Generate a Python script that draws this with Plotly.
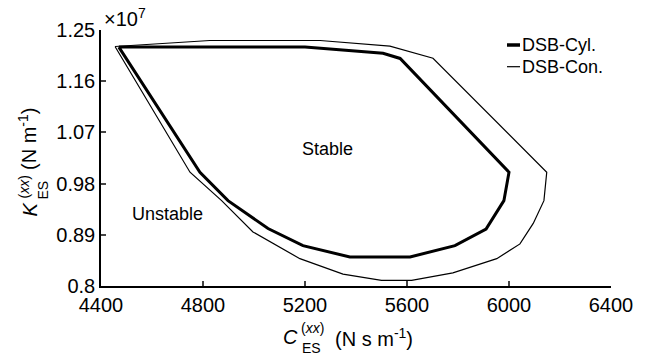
import plotly.graph_objects as go

# ---- data (K in units of 1e7 N/m) ----
cyl_c = [4470, 5200, 5506, 5573, 6000, 5980, 5910, 5788, 5612, 5376, 5192, 5055, 4898, 4788, 4470]
cyl_k = [1.220, 1.220, 1.209, 1.200, 1.000, 0.950, 0.900, 0.871, 0.851, 0.851, 0.871, 0.901, 0.950, 1.000, 1.220]

con_c = [4455, 4827, 5259, 5533, 5702, 6148, 6137, 6095, 6043, 5952, 5780, 5618, 5500, 5349, 5180, 4996, 4873, 4749, 4455]
con_k = [1.221, 1.2315, 1.2315, 1.2215, 1.2004, 1.000, 0.950, 0.910, 0.874, 0.848, 0.823, 0.810, 0.810, 0.821, 0.848, 0.895, 0.950, 1.000, 1.221]

x_ticks = [4400, 4800, 5200, 5600, 6000, 6400]
y_ticks = [0.8, 0.89, 0.98, 1.07, 1.16, 1.25]
y_tick_text = ["0.8", "0.89", "0.98", "1.07", "1.16", "1.25"]

series_names = ["DSB-Cyl.", "DSB-Con."]
region_labels = [("Stable", 5290, 1.0417), ("Unstable", 4659, 0.9257)]

W, H = 649, 356
L, R, T, B = 101, 38, 30, 70
FONT = "Liberation Sans, Arial, sans-serif"


def px(xp, yp):
    """pixel -> paper coordinates"""
    return (xp - L) / (W - L - R), (H - B - yp) / (H - T - B)


fig = go.Figure()
fig.add_trace(go.Scatter(x=cyl_c, y=cyl_k, mode="lines", name=series_names[0],
                         line=dict(color="black", width=3), showlegend=False))
fig.add_trace(go.Scatter(x=con_c, y=con_k, mode="lines", name=series_names[1],
                         line=dict(color="black", width=1.2), showlegend=False))

ann = []
for txt, cx, ky in region_labels:
    ann.append(dict(x=cx, y=ky, xref="x", yref="y", text=txt, showarrow=False,
                    font=dict(size=18, color="black", family=FONT)))


def pann(xp, yp, text, size, xanchor="center", yanchor="middle", angle=0):
    x, y = px(xp, yp)
    ann.append(dict(x=x, y=y, xref="paper", yref="paper", text=text, showarrow=False,
                    xanchor=xanchor, yanchor=yanchor, textangle=angle,
                    font=dict(size=size, color="black", family=FONT)))


# x axis title
pann(290, 337, "<i>C</i>", 20)
pann(312, 328, "(<i>xx</i>)", 14)
pann(311.5, 347.5, "ES", 14)
pann(333, 337, "(N s m<sup>-1</sup>)", 20, xanchor="left")

# y axis title (rotated)
pann(29.5, 209, "<i>K</i>", 20, angle=-90)
pann(23.5, 187, "(<i>xx</i>)", 14, angle=-90)
pann(42.5, 190, "ES", 14, angle=-90)
pann(27, 139, "(N m<sup>-1</sup>)", 20, angle=-90)

# exponent
pann(102, 17, "\u00d710<sup>7</sup>", 20, xanchor="left")

# legend
shapes = []
for i, (name, w) in enumerate(zip(series_names, [3.5, 1.2])):
    yp = 45 + i * 21.7
    x0, y0 = px(507, yp)
    x1, _ = px(520, yp)
    shapes.append(dict(type="line", xref="paper", yref="paper", x0=x0, x1=x1, y0=y0, y1=y0,
                       line=dict(color="black", width=w)))
    pann(520, yp, name, 18, xanchor="left")

fig.update_layout(
    width=W, height=H,
    margin=dict(l=L, r=R, t=T, b=B),
    paper_bgcolor="white", plot_bgcolor="white",
    annotations=ann, shapes=shapes,
    showlegend=False,
    font=dict(family=FONT, color="black"),
)
fig.update_xaxes(range=[4400, 6400], tickvals=x_ticks, ticks="inside", ticklen=5, tickwidth=1.5,
                 showline=True, linewidth=1.5, linecolor="black", showgrid=False, zeroline=False,
                 tickfont=dict(size=20, family=FONT, color="black"))
fig.update_yaxes(range=[0.8, 1.25], tickvals=y_ticks, ticktext=y_tick_text, ticks="inside",
                 ticklen=5, tickwidth=1.5, showline=True, linewidth=1.5, linecolor="black",
                 showgrid=False, zeroline=False,
                 tickfont=dict(size=20, family=FONT, color="black"))

fig.write_html("out.html")
